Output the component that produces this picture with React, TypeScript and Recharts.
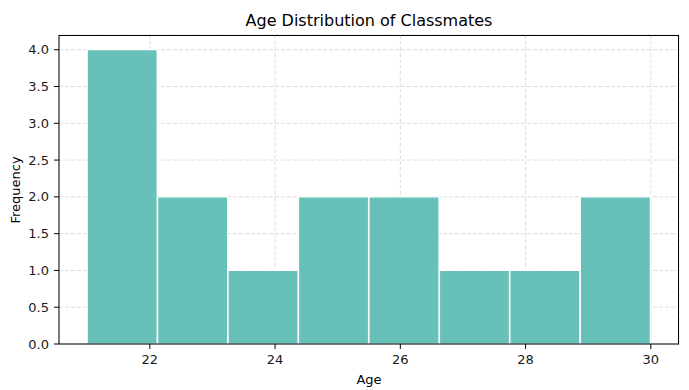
import React from 'react';
import { ComposedChart, Bar, XAxis, YAxis, CartesianGrid } from 'recharts';

const binEdges = [21, 22.125, 23.25, 24.375, 25.5, 26.625, 27.75, 28.875, 30];
const frequencies = [4, 2, 1, 2, 2, 1, 1, 2];
const xTicks = [22, 24, 26, 28, 30];
const yTicks = [0, 0.5, 1, 1.5, 2, 2.5, 3, 3.5, 4];

const data = frequencies.map((f, i) => ({
  center: (binEdges[i] + binEdges[i + 1]) / 2,
  freq: f,
}));

const FONT = '"DejaVu Sans", sans-serif';
const W = 689;
const H = 390;
const M = { top: 35, right: 10, bottom: 0, left: 0 };
const Y_W = 59;
const X_H = 46;

export default function App() {
  const plotLeft = M.left + Y_W;
  const plotRight = W - M.right;
  const plotTop = M.top;
  const plotBottom = H - X_H;
  return (
    <div style={{ position: 'absolute', left: 0, top: 0, width: W, height: H, background: '#fff', fontFamily: FONT }}>
      <ComposedChart width={W} height={H} data={data} margin={M} barCategoryGap={0} barGap={0}>
        <CartesianGrid
          xAxisId="b"
          yAxisId="l"
          stroke="#dedede"
          strokeDasharray="4 2"
          strokeWidth={1}
        />
        <XAxis
          xAxisId="b"
          type="number"
          dataKey="center"
          domain={[20.55, 30.45]}
          ticks={xTicks}
          allowDataOverflow
          height={X_H}
          stroke="#000"
          tickSize={5}
          tickMargin={6}
          tick={{ fill: '#1a1a1a', fontSize: 13, fontFamily: FONT }}
        />
        <YAxis
          yAxisId="l"
          type="number"
          domain={[0, 4.2]}
          ticks={yTicks}
          allowDataOverflow
          width={Y_W}
          stroke="#000"
          tickSize={5}
          tickMargin={5}
          tickFormatter={(v: number) => v.toFixed(1)}
          tick={{ fill: '#1a1a1a', fontSize: 13, fontFamily: FONT }}
        />
        <Bar
          xAxisId="b"
          yAxisId="l"
          dataKey="freq"
          fill="#68c1b8"
          stroke="#ffffff"
          strokeWidth={1.2}
          isAnimationActive={false}
        />
      </ComposedChart>
      <div
        style={{
          position: 'absolute',
          left: plotLeft,
          top: plotTop,
          width: plotRight - plotLeft,
          height: plotBottom - plotTop,
          boxSizing: 'border-box',
          borderTop: '1px solid #000',
          borderRight: '1px solid #000',
          pointerEvents: 'none',
        }}
      />
      <div
        style={{
          position: 'absolute',
          left: plotLeft,
          width: plotRight - plotLeft,
          top: 11,
          fontSize: 16,
          lineHeight: '20px',
          textAlign: 'center',
          color: '#000',
          whiteSpace: 'nowrap',
        }}
      >
        Age Distribution of Classmates
      </div>
      <div
        style={{
          position: 'absolute',
          left: plotLeft,
          width: plotRight - plotLeft,
          top: 372,
          fontSize: 13,
          lineHeight: '15px',
          textAlign: 'center',
          color: '#000',
          whiteSpace: 'nowrap',
        }}
      >
        Age
      </div>
      <div
        style={{
          position: 'absolute',
          left: 15,
          top: (plotTop + plotBottom) / 2,
          fontSize: 13,
          lineHeight: '15px',
          color: '#000',
          whiteSpace: 'nowrap',
          transform: 'translate(-50%, -50%) rotate(-90deg)',
        }}
      >
        Frequency
      </div>
    </div>
  );
}
